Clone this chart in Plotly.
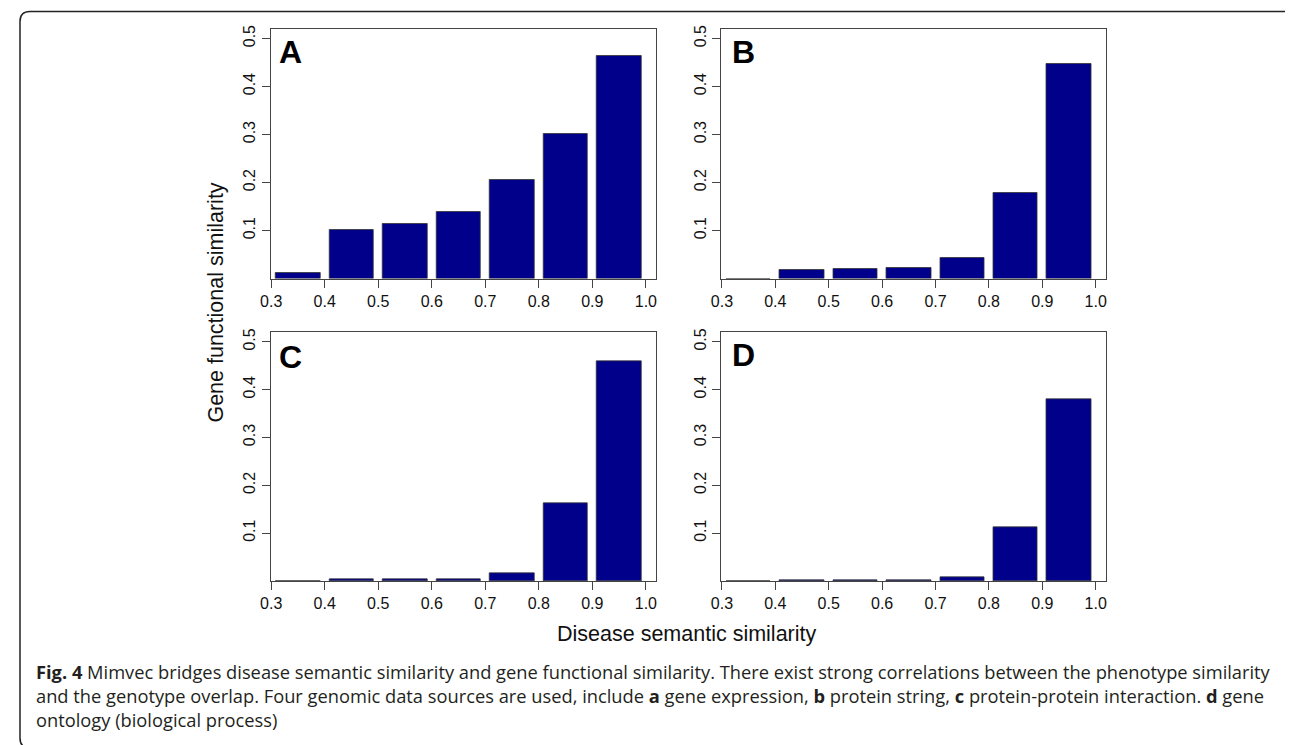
import plotly.graph_objects as go

# ---------------- data ----------------
bin_centers = [0.35, 0.45, 0.55, 0.65, 0.75, 0.85, 0.95]
panel_labels = ["A", "B", "C", "D"]
vals_a = [0.011, 0.102, 0.113, 0.138, 0.205, 0.302, 0.463]
vals_b = [0.0, 0.019, 0.020, 0.023, 0.042, 0.179, 0.448]
vals_c = [0.0, 0.003, 0.003, 0.004, 0.015, 0.162, 0.459]
vals_d = [0.0, 0.0005, 0.001, 0.0015, 0.007, 0.112, 0.380]
x_tickvals = [0.3, 0.4, 0.5, 0.6, 0.7, 0.8, 0.9, 1.0]
x_ticktext = ["0.3", "0.4", "0.5", "0.6", "0.7", "0.8", "0.9", "1.0"]
y_tickvals = [0.1, 0.2, 0.3, 0.4, 0.5]
y_ticktext = ["0.1", "0.2", "0.3", "0.4", "0.5"]
x_title = "Disease semantic similarity"
y_title = "Gene functional similarity"
caption_lines = [
    "<b>Fig. 4</b> Mimvec bridges disease semantic similarity and gene functional similarity. There exist strong correlations between the phenotype similarity",
    "and the genotype overlap. Four genomic data sources are used, include <b>a</b> gene expression, <b>b</b> protein string, <b>c</b> protein-protein interaction. <b>d</b> gene",
    "ontology (biological process)",
]

# ---------------- layout helpers ----------------
W, H = 1293, 745
OX, OY = 8, 8  # page body margin
def px(x):
    return (x - OX) / W
def py(y):
    return 1 - (y - OY) / H

FONT = "Liberation Sans, Arial, Helvetica, sans-serif"
AXC = "#444444"

# pixel boxes of the four panels (left, right, top, bottom)
boxes = [
    (262, 651, 25, 276),
    (717, 1105, 25, 276),
    (262, 651, 330, 580),
    (717, 1105, 330, 580),
]
series = [vals_a, vals_b, vals_c, vals_d]

fig = go.Figure()
layout_axes = {}
for i, (vals, box) in enumerate(zip(series, boxes)):
    n = i + 1
    xa = "x" if n == 1 else f"x{n}"
    ya = "y" if n == 1 else f"y{n}"
    fig.add_trace(go.Bar(
        x=bin_centers, y=vals, width=0.083,
        marker=dict(color="#00008B", line=dict(color="#333333", width=0.8)),
        xaxis=xa, yaxis=ya, showlegend=False, hoverinfo="x+y",
    ))
    l, r, t, b = box
    layout_axes["xaxis" if n == 1 else f"xaxis{n}"] = dict(
        domain=[px(l), px(r)], anchor=ya, range=[0.299, 1.019],
        tickvals=x_tickvals, ticktext=x_ticktext, ticks="outside", ticklen=8,
        tickcolor=AXC, tickwidth=1, showline=True, linecolor=AXC, linewidth=1,
        mirror=True, showgrid=False, zeroline=False,
        tickfont=dict(family=FONT, size=16, color="#111111"),
    )
    layout_axes["yaxis" if n == 1 else f"yaxis{n}"] = dict(
        domain=[py(b), py(t)], anchor=xa, range=[0, 0.52],
        tickvals=y_tickvals, ticktext=y_ticktext, ticks="outside", ticklen=8,
        tickcolor=AXC, tickwidth=1, showline=True, linecolor=AXC, linewidth=1,
        mirror=True, showgrid=False, zeroline=False, tickangle=-90,
        tickfont=dict(family=FONT, size=16, color="#111111"),
    )

annotations = []
label_pos = [(282, 48), (739, 48), (282, 355), (739, 353)]
for lab, (lx, ly) in zip(panel_labels, label_pos):
    annotations.append(dict(
        text=f"<b>{lab}</b>", x=px(lx), y=py(ly), xref="paper", yref="paper",
        xanchor="center", yanchor="middle", showarrow=False,
        font=dict(family=FONT, size=32, color="black"),
    ))
annotations.append(dict(
    text=x_title, x=px(682), y=py(633), xref="paper", yref="paper",
    xanchor="center", yanchor="middle", showarrow=False,
    font=dict(family=FONT, size=21.5, color="#111111"),
))
annotations.append(dict(
    text=y_title, x=px(207), y=py(300), xref="paper", yref="paper",
    xanchor="center", yanchor="middle", showarrow=False, textangle=-90,
    font=dict(family=FONT, size=21.5, color="#111111"),
))
CAPFONT = "Open Sans, Noto Sans, sans-serif"
annotations.append(dict(
    text="<br>".join(caption_lines), x=px(23), y=py(695), xref="paper", yref="paper",
    xanchor="left", yanchor="middle", align="left", showarrow=False,
    font=dict(family=CAPFONT, size=18.3, color="#231f20"),
))

# rounded outer border
x0, x1, y0, y1, rr = 9, 1300, 7.5, 748, 10
def P(x, y):
    return f"{px(x):.6f},{py(y):.6f}"
path = (f"M {P(x0+rr, y0)} L {P(x1-rr, y0)} Q {P(x1, y0)} {P(x1, y0+rr)} "
        f"L {P(x1, y1-rr)} Q {P(x1, y1)} {P(x1-rr, y1)} L {P(x0+rr, y1)} "
        f"Q {P(x0, y1)} {P(x0, y1-rr)} L {P(x0, y0+rr)} Q {P(x0, y0)} {P(x0+rr, y0)} Z")
shapes = [dict(type="path", path=path, xref="paper", yref="paper",
               line=dict(color="#222222", width=1.5))]

fig.update_layout(
    width=W, height=H, margin=dict(l=0, r=0, t=0, b=0),
    paper_bgcolor="white", plot_bgcolor="white",
    font=dict(family=FONT), annotations=annotations, shapes=shapes,
    bargap=0,
    **layout_axes,
)
fig.write_html("out.html", config={"displayModeBar": False})
